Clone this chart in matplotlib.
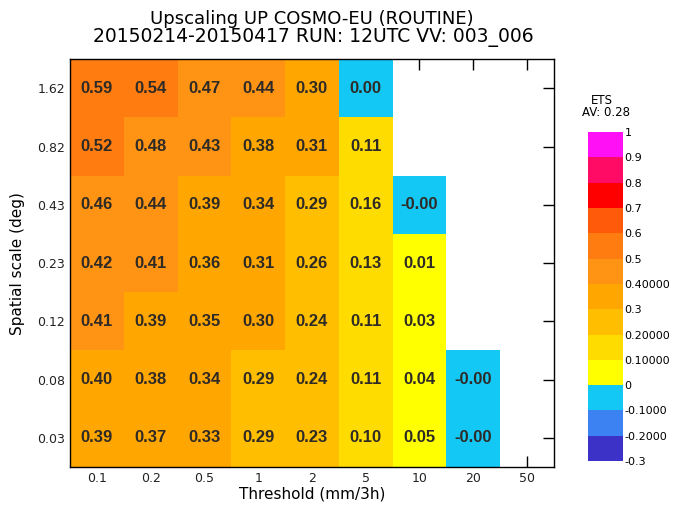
import numpy as np
import matplotlib
matplotlib.use("Agg")
import matplotlib.pyplot as plt
from matplotlib.colors import ListedColormap, BoundaryNorm

# data: rows = spatial scale (top to bottom), cols = threshold
thresholds = ["0.1", "0.2", "0.5", "1", "2", "5", "10", "20", "50"]
scales = ["1.62", "0.82", "0.43", "0.23", "0.12", "0.08", "0.03"]
nan = np.nan
ets = np.array([
    [0.59, 0.54, 0.47, 0.44, 0.30, -0.001, nan, nan, nan],
    [0.52, 0.48, 0.43, 0.38, 0.31, 0.11, nan, nan, nan],
    [0.46, 0.44, 0.39, 0.34, 0.29, 0.16, -0.001, nan, nan],
    [0.42, 0.41, 0.36, 0.31, 0.26, 0.13, 0.01, nan, nan],
    [0.41, 0.39, 0.35, 0.30, 0.24, 0.11, 0.03, nan, nan],
    [0.398, 0.38, 0.34, 0.29, 0.24, 0.11, 0.04, -0.001, nan],
    [0.39, 0.37, 0.33, 0.29, 0.23, 0.10, 0.05, -0.001, nan],
])
av_ets = 0.28

levels = [-0.3, -0.2, -0.1, 0, 0.1, 0.2, 0.3, 0.4, 0.5, 0.6, 0.7, 0.8, 0.9, 1.0]
level_labels = ["-0.3", "-0.2000", "-0.1000", "0", "0.10000", "0.20000", "0.3",
                "0.40000", "0.5", "0.6", "0.7", "0.8", "0.9", "1"]
colors = ["#3c32c8", "#3c82f2", "#14c8f5", "#ffff00", "#ffdc00", "#ffbe00",
          "#ffa600", "#ff9414", "#ff7d10", "#ff5a0a", "#ff0000", "#ff0a64", "#ff10f5"]
cmap = ListedColormap(colors)
norm = BoundaryNorm(levels, cmap.N)

fig = plt.figure(figsize=(6.73, 5.13), dpi=100)
ax = fig.add_axes([0.104, 0.0897, 0.719, 0.795])

data = ets[::-1]  # bottom row first
ax.pcolormesh(np.arange(len(thresholds) + 1), np.arange(len(scales) + 1),
              np.ma.masked_invalid(data), cmap=cmap, norm=norm, zorder=1)

for i in range(data.shape[0]):
    for j in range(data.shape[1]):
        v = data[i, j]
        if np.isnan(v):
            continue
        lab = "%.2f" % v
        if i == data.shape[0] - 1 and j == 5:
            lab = "0.00"
        ax.text(j + 0.5, i + 0.5, lab, ha="center", va="center",
                fontsize=12, family="Liberation Sans", fontweight="bold",
                color="#2e2a26", zorder=3)

ax.set_xlim(0, len(thresholds))
ax.set_ylim(0, len(scales))
ax.set_xticks(np.arange(len(thresholds)) + 0.5)
ax.set_xticklabels(thresholds)
ax.set_yticks(np.arange(len(scales)) + 0.5)
ax.set_yticklabels(scales[::-1])
ax.set_axisbelow(True)
ax.tick_params(direction="in", length=8, width=1, top=True, right=True,
               labelsize=9, pad=3.5, colors="black", labelcolor="#222222")
for s in ax.spines.values():
    s.set_linewidth(1)
    s.set_zorder(4)
ax.set_xlabel("Threshold (mm/3h)", fontsize=11, labelpad=1)
ax.set_ylabel("Spatial scale (deg)", fontsize=11, labelpad=9)

fig.text(0.463, 0.962, "Upscaling UP COSMO-EU (ROUTINE)", ha="center", va="center", fontsize=13)
fig.text(0.466, 0.926, "20150214-20150417 RUN: 12UTC VV: 003_006", ha="center", va="center", fontsize=13.5)

# colorbar
cax = fig.add_axes([0.8737, 0.1014, 0.052, 0.641])
for k in range(len(colors)):
    cax.fill_between([0, 1], levels[k], levels[k + 1], color=colors[k], lw=0)
cax.set_xlim(0, 1)
cax.set_ylim(levels[0], levels[-1])
cax.set_xticks([])
cax.yaxis.tick_right()
cax.set_yticks(levels)
cax.set_yticklabels(level_labels)
cax.tick_params(axis="y", direction="out", length=0, width=1, labelsize=8, pad=1)
for s in cax.spines.values():
    s.set_visible(False)
fig.text(0.8945, 0.805, "ETS", ha="center", va="center", fontsize=8.5)
fig.text(0.9005, 0.780, "AV: %.2f" % av_ets, ha="center", va="center", fontsize=8.5)

fig.savefig("out.png", dpi=100)
